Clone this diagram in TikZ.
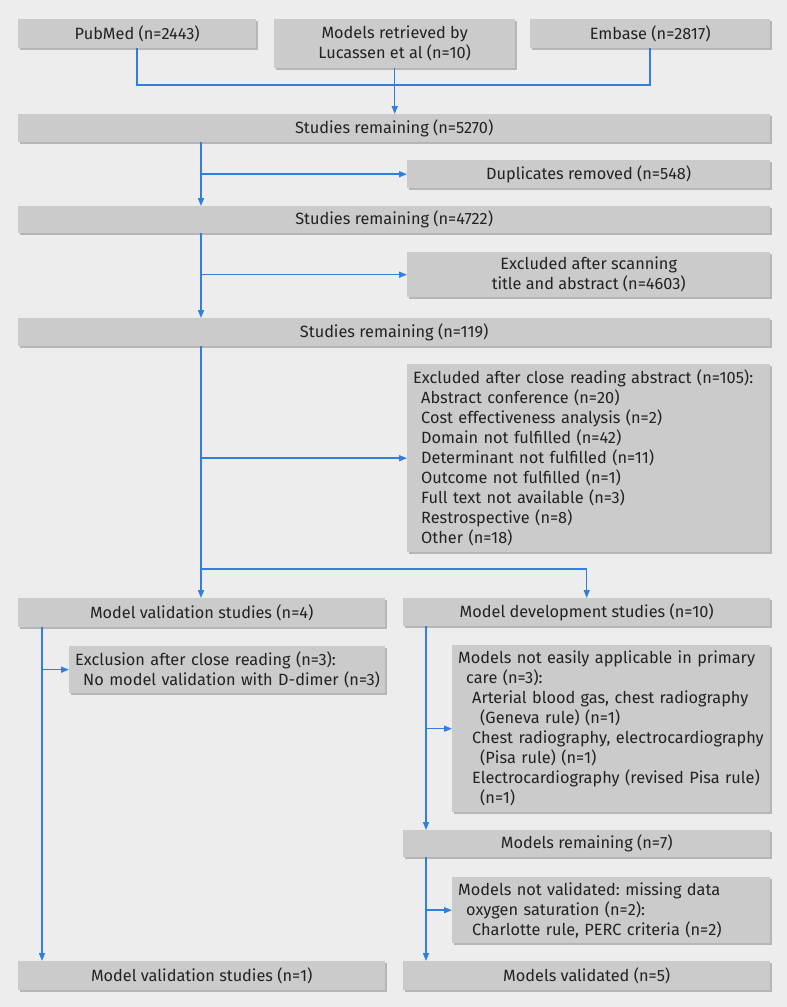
\documentclass[tikz,border=0pt]{standalone}
\usepackage{fontspec}
\setmainfont{Fira Sans}
\usetikzlibrary{arrows.meta,shadows,calc}
\definecolor{bgc}{HTML}{EDEDED}
\definecolor{boxc}{HTML}{CBCBCB}
\definecolor{shadc}{HTML}{B6B6B6}
\definecolor{bluec}{HTML}{2F7FE0}
\definecolor{txtc}{HTML}{222222}
\frenchspacing
\newcommand{\Lz}[1]{\mbox{#1}}
\newcommand{\La}[1]{\mbox{\hspace*{8pt}#1}}
\newcommand{\Lb}[1]{\mbox{\hspace*{14pt}#1}}
\newcommand{\Lc}[1]{\mbox{\hspace*{22pt}#1}}
\begin{document}
\begin{tikzpicture}[x=1pt,y=-1pt,
  font=\fontsize{16.3}{20}\selectfont,
  box/.style={fill=boxc, draw=none, inner xsep=6pt, inner ysep=0pt, text=txtc,
    anchor=north west, align=center,
    drop shadow={shadow xshift=2pt, shadow yshift=-2pt, fill=shadc, opacity=1}},
  lbox/.style={box, align=left},
  conn/.style={draw=bluec, line width=1.5pt},
  arr/.style={conn, -{Triangle[length=8pt,width=6pt]}}]
\fill[bgc] (0,0) rectangle (787,1007);
\useasboundingbox (0,0) rectangle (787,1007);

\node[box, minimum width=238, minimum height=29] (pub) at (18,19) {PubMed (n=2443)};
\node[box, minimum width=241, minimum height=49] (mod) at (274,19) {Models retrieved by\\Lucassen et al (n=10)};
\node[box, minimum width=240, minimum height=29] (emb) at (530,19) {Embase (n=2817)};
\node[box, minimum width=752, minimum height=28] (s1) at (18,114) {Studies remaining (n=5270)};
\node[box, minimum width=363, minimum height=28] (dup) at (407,160) {Duplicates removed (n=548)};
\node[box, minimum width=752, minimum height=27] (s2) at (18,206) {Studies remaining (n=4722)};
\node[box, minimum width=363, minimum height=45] (exs) at (407,252) {Excluded after scanning\\title and abstract (n=4603)};
\node[box, minimum width=752, minimum height=28] (s3) at (18,318) {Studies remaining (n=119)};
\node[lbox, minimum width=363, minimum height=188, text width=351] (exc) at (407,364)
  {\Lz{Excluded after close reading abstract (n=105):}\\
   \La{Abstract conference (n=20)}\\
   \La{Cost effectiveness analysis (n=2)}\\
   \La{Domain not fulfilled (n=42)}\\
   \La{Determinant not fulfilled (n=11)}\\
   \La{Outcome not fulfilled (n=1)}\\
   \La{Full text not available (n=3)}\\
   \La{Restrospective (n=8)}\\
   \La{Other (n=18)}};
\node[box, minimum width=367, minimum height=29] (val4) at (18,598) {Model validation studies (n=4)};
\node[box, minimum width=367, minimum height=28] (dev) at (403,598) {Model development studies (n=10)};
\node[lbox, minimum width=316, minimum height=47, text width=304] (excl) at (69,646)
  {\Lz{Exclusion after close reading (n=3):}\\
   \La{No model validation with D-dimer (n=3)}};
\node[lbox, minimum width=318, minimum height=167, text width=306] (ne) at (452,645)
  {\Lz{Models not easily applicable in primary}\\
   \La{care (n=3):}\\
   \Lb{Arterial blood gas, chest radiography}\\
   \Lc{(Geneva rule) (n=1)}\\
   \Lb{Chest radiography, electrocardiography}\\
   \Lc{(Pisa rule) (n=1)}\\
   \Lb{Electrocardiography (revised Pisa rule)}\\
   \Lc{(n=1)}};
\node[box, minimum width=367, minimum height=27] (rem) at (403,830) {Models remaining (n=7)};
\node[lbox, minimum width=318, minimum height=66, text width=306] (nv) at (452,877)
  {\Lz{Models not validated: missing data}\\
   \La{oxygen saturation (n=2):}\\
   \Lb{Charlotte rule, PERC criteria (n=2)}};
\node[box, minimum width=367, minimum height=29] (val1) at (18,961) {Model validation studies (n=1)};
\node[box, minimum width=367, minimum height=29] (valid) at (403,961) {Models validated (n=5)};

\coordinate (j1) at (394,85);
\coordinate (cx) at (201,0);
\coordinate (lx) at (42,0);
\coordinate (rx) at (426,0);
\coordinate (br) at (201,569);

\draw[conn] (pub.south) |- (j1) -| (emb.south);
\draw[arr] (mod.south) -- (mod.south |- s1.north);
\draw[arr] (s1.south -| cx) -- (s2.north -| cx);
\draw[arr] (cx |- dup.west) -- (dup.west);
\draw[arr] (s2.south -| cx) -- (s3.north -| cx);
\draw[arr] (cx |- exs.west) -- (exs.west);
\draw[arr] (s3.south -| cx) -- (val4.north -| cx);
\draw[arr] (cx |- exc.west) -- (exc.west);
\draw[arr] (br) -| (dev.north);
\draw[arr] (val4.south -| lx) -- (val1.north -| lx);
\draw[arr] (lx |- excl.west) -- (excl.west);
\draw[arr] (dev.south -| rx) -- (rem.north -| rx);
\draw[arr] (rx |- ne.west) -- (ne.west);
\draw[arr] (rem.south -| rx) -- (valid.north -| rx);
\draw[arr] (rx |- nv.west) -- (nv.west);
\end{tikzpicture}
\end{document}
